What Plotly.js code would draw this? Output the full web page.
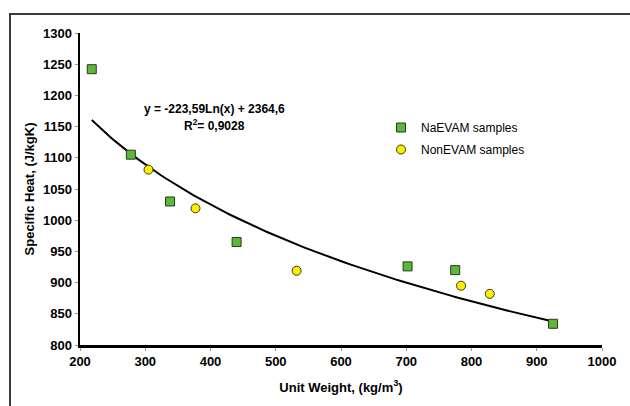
<!DOCTYPE html>
<html>
<head>
<meta charset="utf-8">
<script src="https://cdn.plot.ly/plotly-3.0.1.min.js"></script>
<style>
  html, body { margin: 0; padding: 0; background: #fff; }
  #frame { position: absolute; left: 9px; top: 13px; width: 621px; height: 393px;
           border-left: 2px solid #3a3a3a; border-top: 2px solid #3a3a3a; }
  #chart { position: absolute; left: 0; top: 0; width: 630px; height: 406px; }
</style>
</head>
<body>
<div id="frame"></div>
<div id="chart"></div>
<script>
// NaEVAM samples
const naX = [218, 278, 338, 440, 702, 775, 925];
const naY = [1242, 1105, 1030, 965, 926, 920, 834];
// NonEVAM samples
const nonX = [305, 377, 532, 784, 828];
const nonY = [1081, 1019, 919, 895, 882];
// Logarithmic trendline coefficients printed on the chart: y = a*Ln(x) + b
const trendA = -223.59;
const trendB = 2364.6;
const xTicks = [200, 300, 400, 500, 600, 700, 800, 900, 1000];
const yTicks = [800, 850, 900, 950, 1000, 1050, 1100, 1150, 1200, 1250, 1300];

const allX = naX.concat(nonX);
const xMin = Math.min(...allX), xMax = Math.max(...allX);
const trX = [], trY = [];
for (let i = 0; i <= 100; i++) {
  const x = xMin + (xMax - xMin) * i / 100;
  trX.push(x);
  trY.push(trendA * Math.log(x) + trendB);
}

const font = 'Liberation Sans, Arial, sans-serif';
const traces = [
  { x: trX, y: trY, mode: 'lines', line: { color: '#000', width: 2 },
    showlegend: false, hoverinfo: 'skip' },
  { x: naX, y: naY, mode: 'markers', name: 'NaEVAM samples', legendgroup: 'a',
    marker: { symbol: 'square', size: 9, color: '#5cb83a', line: { color: '#2a3a20', width: 1 } } },
  { x: nonX, y: nonY, mode: 'markers', name: 'NonEVAM samples', legendgroup: 'b',
    marker: { symbol: 'circle', size: 9, color: '#ffee00', line: { color: '#3a3a10', width: 1 } } }
];

// plot area in pixels: x 80..602, y 33..345
const PL = 80, PR = 602, PT = 33, PB = 345;
const pxToX = px => 200 + (px - PL) * 800 / (PR - PL);
const pxToY = py => 1300 - (py - PT) * 500 / (PB - PT);

const layout = {
  width: 630, height: 406,
  margin: { l: PL, r: 630 - PR, t: PT, b: 406 - PB },
  paper_bgcolor: 'rgba(0,0,0,0)',
  plot_bgcolor: 'rgba(0,0,0,0)',
  font: { family: font, color: '#000' },
  xaxis: {
    range: [200, 1000], tickvals: xTicks, ticktext: xTicks.map(String),
    showgrid: false, zeroline: false,
    showline: true, linecolor: '#000', linewidth: 2.5,
    ticks: 'outside', ticklen: 3, tickwidth: 1, tickcolor: '#999',
    tickfont: { family: font, size: 13, color: '#000', weight: 'bold' },
    title: { text: '<b>Unit Weight, (kg/m<sup>3</sup>)</b>', font: { family: font, size: 13, color: '#000' }, standoff: 15 }
  },
  yaxis: {
    range: [800, 1300], tickvals: yTicks, ticktext: yTicks.map(String),
    showgrid: false, zeroline: false,
    showline: true, linecolor: '#000', linewidth: 2.5,
    ticks: 'outside', ticklen: 3, tickwidth: 1, tickcolor: '#999',
    tickfont: { family: font, size: 13, color: '#000', weight: 'bold' },
    title: { text: '<b>Specific Heat, (J/kgK)</b>', font: { family: font, size: 13, color: '#000' }, standoff: 6 }
  },
  legend: {
    x: (381 - PL) / (PR - PL), y: 1 - (113 - PT) / (PB - PT),
    xanchor: 'left', yanchor: 'top', xref: 'paper', yref: 'paper',
    tracegroupgap: 3,
    font: { family: font, size: 12, color: '#000' },
    bgcolor: 'rgba(0,0,0,0)'
  },
  annotations: [
    { text: '<b>y = -223,59Ln(x) + 2364,6</b>',
      x: pxToX(214), y: pxToY(109), xref: 'x', yref: 'y', showarrow: false,
      xanchor: 'center', yanchor: 'middle',
      font: { family: font, size: 12, color: '#000' } },
    { text: '<b>R<sup>2</sup>= 0,9028</b>',
      x: pxToX(214), y: pxToY(125), xref: 'x', yref: 'y', showarrow: false,
      xanchor: 'center', yanchor: 'middle',
      font: { family: font, size: 12, color: '#000' } }
  ],
  showlegend: true
};

Plotly.newPlot('chart', traces, layout, { displayModeBar: false, staticPlot: true });
</script>
</body>
</html>
